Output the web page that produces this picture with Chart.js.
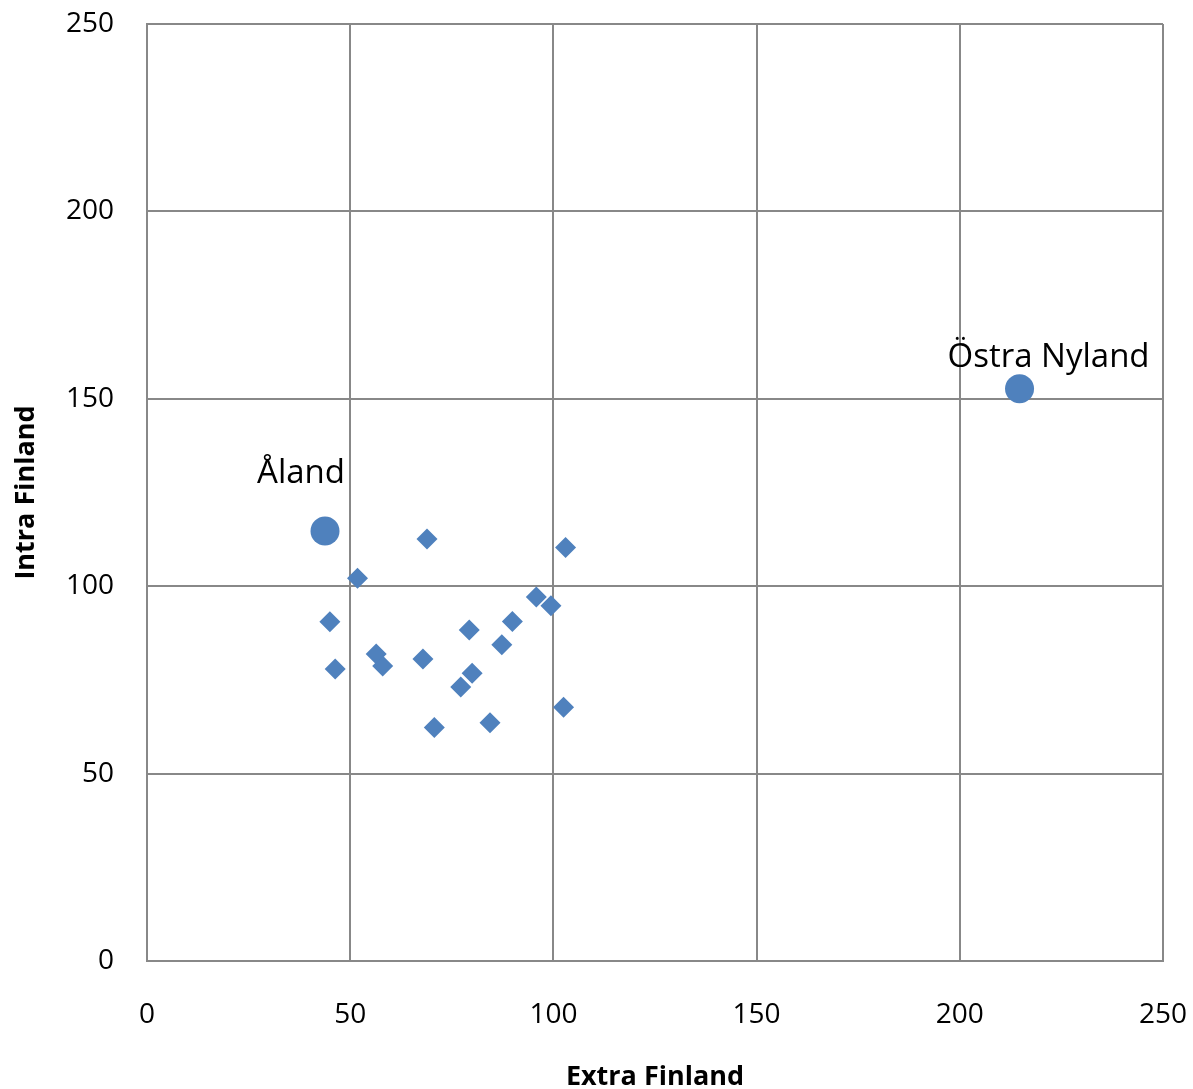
<!DOCTYPE html>
<html>
<head>
<meta charset="utf-8">
<script src="https://cdn.jsdelivr.net/npm/chart.js@4"></script>
<style>
  html, body { margin: 0; padding: 0; background: #fff; }
  #wrap { width: 1193px; height: 1089px; position: relative; }
</style>
</head>
<body>
<div id="wrap"><canvas id="scatter"></canvas></div>
<script>
// regions (diamonds)
const extraFinland = [68.9, 103.0, 51.8, 95.8, 99.4, 45.0, 79.3, 89.9, 87.3, 56.4, 58.0, 67.9, 46.3, 80.0, 77.2, 102.5, 70.7, 84.4];
const intraFinland = [112.6, 110.3, 102.1, 97.1, 94.8, 90.5, 88.3, 90.6, 84.4, 81.9, 78.7, 80.6, 77.9, 76.8, 73.1, 67.7, 62.3, 63.6];

// highlighted regions (circles)
const namedRegions = ['Åland', 'Östra Nyland'];
const namedExtra = [43.8, 214.7];
const namedIntra = [114.7, 152.7];

const axisTicks = [0, 50, 100, 150, 200, 250];

const blue = '#4F81BD';
const gridColor = '#888888';
const fontFam = '"Open Sans", Lato, sans-serif';

// labels above the two circles
const pointLabels = {
  id: 'pointLabels',
  afterDatasetsDraw(chart) {
    const ctx = chart.ctx;
    const xs = chart.scales.x, ys = chart.scales.y;
    const offsets = [[-24, -48], [29, -22]];
    ctx.save();
    ctx.fillStyle = '#000';
    ctx.font = '33px ' + fontFam;
    ctx.textAlign = 'center';
    ctx.textBaseline = 'alphabetic';
    namedRegions.forEach((name, i) => {
      const px = xs.getPixelForValue(namedExtra[i]) + offsets[i][0];
      const py = ys.getPixelForValue(namedIntra[i]) + offsets[i][1];
      ctx.fillText(name, px, py);
    });
    ctx.restore();
  }
};

const ctx = document.getElementById('scatter').getContext('2d');
new Chart(ctx, {
  type: 'scatter',
  data: {
    datasets: [
      {
        label: 'Regions',
        data: extraFinland.map((x, i) => ({x: x, y: intraFinland[i]})),
        pointStyle: 'rectRot',
        radius: 10.5,
        backgroundColor: blue,
        borderColor: blue,
        borderWidth: 0
      },
      {
        label: 'Named',
        data: namedExtra.map((x, i) => ({x: x, y: namedIntra[i]})),
        pointStyle: 'circle',
        radius: 14.5,
        backgroundColor: blue,
        borderColor: blue,
        borderWidth: 0
      }
    ]
  },
  options: {
    responsive: true,
    maintainAspectRatio: false,
    animation: false,
    layout: { padding: { top: 24, right: 30, left: 0, bottom: 0 } },
    plugins: { legend: { display: false }, tooltip: { enabled: false } },
    scales: {
      x: {
        type: 'linear', min: 0, max: 250,
        afterBuildTicks: s => { s.ticks = axisTicks.map(v => ({value: v})); },
        afterFit: s => { s.height = 128; s.paddingLeft = 0; s.paddingRight = 0; },
        grid: { color: gridColor, lineWidth: 2, drawTicks: false },
        border: { color: gridColor, width: 2 },
        ticks: { padding: 37, color: '#000', font: { family: fontFam, size: 28 } },
        title: { display: true, text: 'Extra Finland', color: '#000', padding: { top: 13, bottom: -5 },
                 font: { family: fontFam, size: 27, weight: 'bold' } }
      },
      y: {
        type: 'linear', min: 0, max: 250,
        afterBuildTicks: s => { s.ticks = axisTicks.map(v => ({value: v})); },
        afterFit: s => { s.width = 147; s.paddingTop = 0; s.paddingBottom = 0; },
        grid: { color: gridColor, lineWidth: 2, drawTicks: false },
        border: { color: gridColor, width: 2 },
        ticks: { padding: 33, color: '#000', font: { family: fontFam, size: 28 } },
        title: { display: true, text: 'Intra Finland', color: '#000', padding: { top: 10, bottom: 0 },
                 font: { family: fontFam, size: 27, weight: 'bold' } }
      }
    }
  },
  plugins: [pointLabels]
});
</script>
</body>
</html>
